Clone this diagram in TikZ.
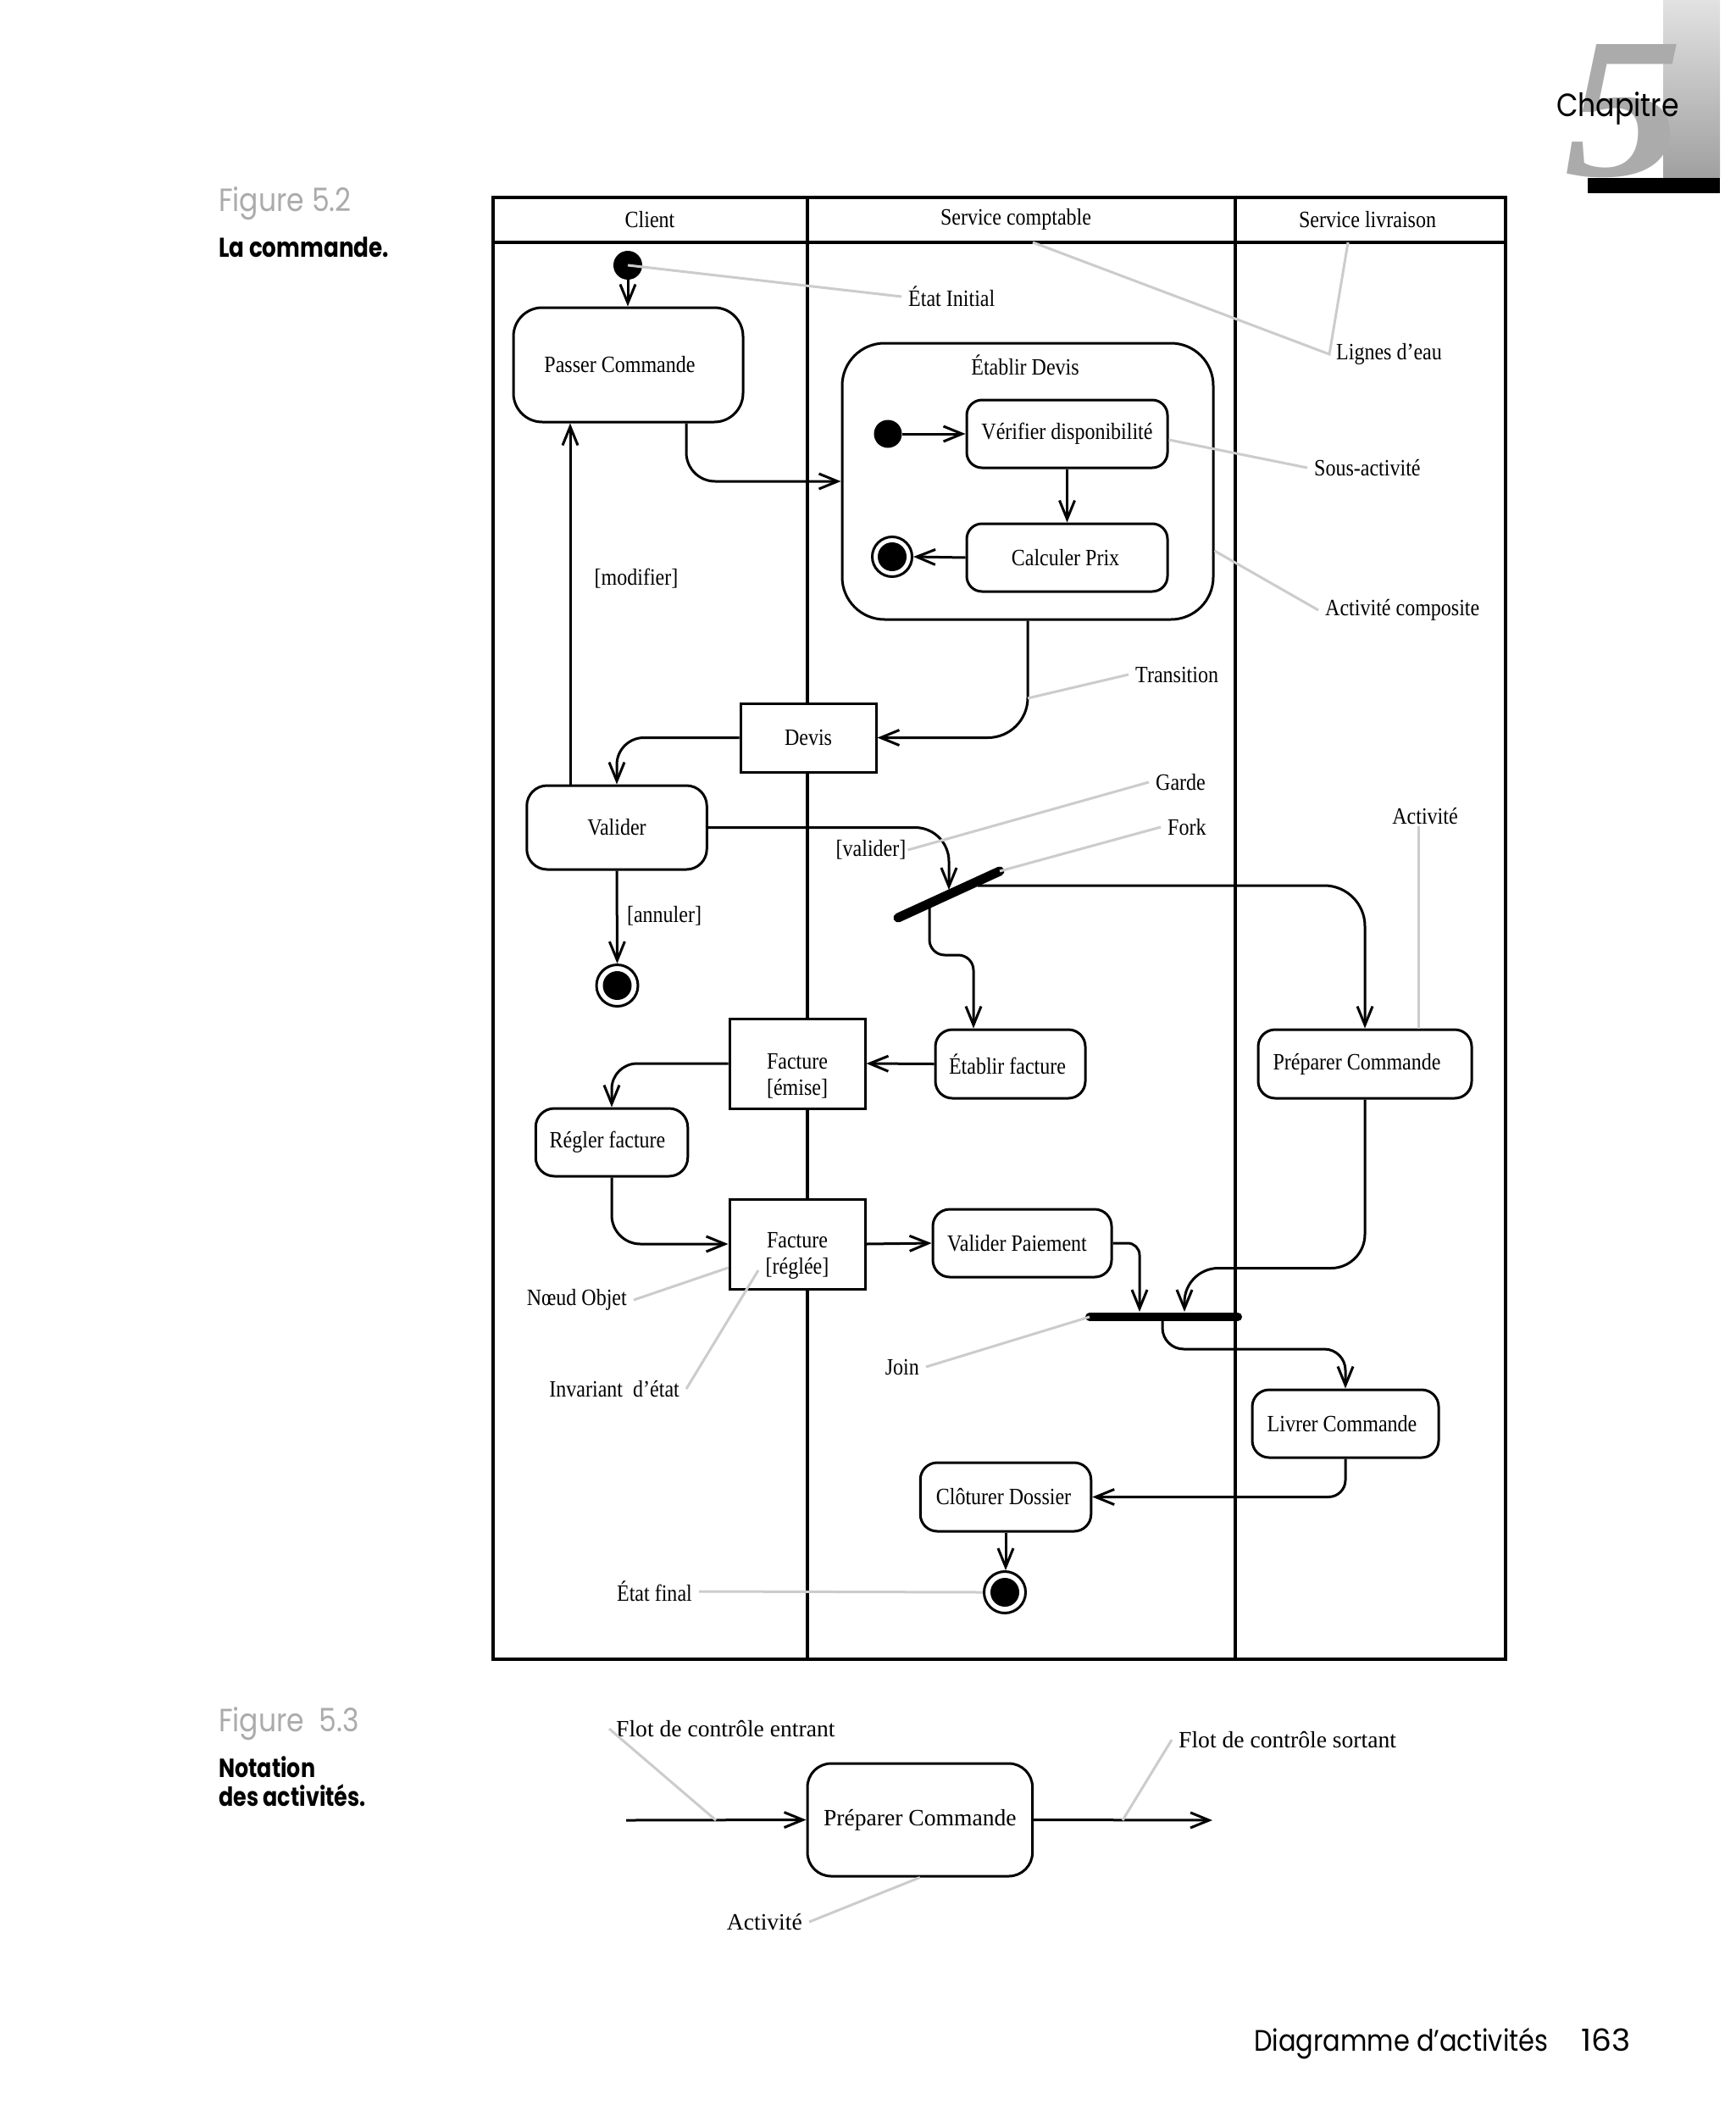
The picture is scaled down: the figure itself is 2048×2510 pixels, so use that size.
\documentclass[tikz,border=0pt]{standalone}
\usepackage{fontspec}
\usepackage{graphicx}
\setmainfont{Liberation Serif}
\newfontfamily\dserif{Liberation Serif}[FakeStretch=0.87]
\newfontfamily\futura{Poppins}[FakeStretch=0.87]
\newfontfamily\futurab{Poppins}[FakeStretch=0.82]
\usetikzlibrary{arrows.meta}
\definecolor{leadc}{HTML}{CCCCCC}
\definecolor{figgray}{HTML}{ABABAB}
\definecolor{fivegray}{HTML}{ABABAB}
\definecolor{bartop}{HTML}{E2E2E2}
\definecolor{barbot}{HTML}{A0A0A0}
\newcommand\dgmfont{\dserif\fontsize{27.6pt}{31pt}\selectfont}
\newcommand\figbfont{\fontsize{27.6pt}{31pt}\selectfont}
\tikzset{
  lane/.style={line width=3.5pt},
  flow/.style={draw, line width=3pt, -{Straight Barb[length=22pt,width=18pt]}},
  act/.style={draw, line width=3pt, rounded corners=#1, fill=white, inner sep=0pt, font=\dgmfont},
  act/.default=20pt,
  obj/.style={draw, line width=3pt, fill=white, inner sep=0pt, font=\dgmfont},
  initdot/.style={circle, fill=black, inner sep=0pt, minimum size=34pt},
  finstate/.style={circle, draw, line width=3pt, fill=white, inner sep=0pt, minimum size=49pt,
    path picture={\fill[black] (path picture bounding box.center) circle (17pt);}},
  lbl/.style={inner sep=2pt, font=\dgmfont},
  ann/.style={inner sep=8pt, font=\dgmfont},
  lead/.style={draw=leadc, line width=3pt},
  bar/.style={draw, line cap=round},
  pagetxt/.style={inner sep=0pt, anchor=base west},
}
\begin{document}
\begin{tikzpicture}[x=1pt,y=-1pt]
\useasboundingbox (0,0) rectangle (2048,2510);
\fill[white] (0,0) rectangle (2048,2510);

% ---- chapter mark ----
\shade[top color=bartop, bottom color=barbot] (1963,0) rectangle (2030,210);
\fill[black] (1874,210) rectangle (2030,228);
\node[anchor=south west, inner sep=0pt, text=fivegray] (five) at (1846,210)
  {\resizebox{140pt}{155pt}{\bfseries\itshape 5}};
\node[pagetxt, font={\futura\fontsize{38pt}{40pt}\selectfont}] (chap) at (1837,138) {Chapitre};

% ---- captions ----
\node[pagetxt, text=figgray, font={\futura\fontsize{38pt}{40pt}\selectfont}] (fig52) at (258,249) {Figure 5.2};
\node[pagetxt, font={\futurab\bfseries\fontsize{32pt}{34pt}\selectfont}] (cap52) at (258,303) {La commande.};
\node[pagetxt, text=figgray, font={\futura\fontsize{38pt}{40pt}\selectfont}] (fig53) at (258,2043) {Figure~~5.3};
\node[pagetxt, font={\futurab\bfseries\fontsize{31pt}{34pt}\selectfont}] (cap53a) at (258,2097) {Notation};
\node[pagetxt, font={\futurab\bfseries\fontsize{31pt}{34pt}\selectfont}] (cap53b) at (258,2131) {des activités.};
\node[pagetxt, font={\futura\fontsize{35pt}{38pt}\selectfont}] (foot) at (1480,2420) {Diagramme d’activités};
\node[pagetxt, font={\futura\fontsize{36pt}{38pt}\selectfont}] (pnum) at (1866,2420) {\scalebox{1.2}[1]{163}};

% ---- swimlanes ----
\draw[lane] (582,233) rectangle (1777,1958);
\draw[lane] (582,286) -- (1777,286);
\draw[lane] (953,233) -- (953,1958);
\draw[lane] (1458,233) -- (1458,1958);
\node[lbl] (hcli) at (767,259) {Client};
\node[lbl] (hcpt) at (1199,259) {Service comptable};
\node[lbl] (hliv) at (1614,259) {Service livraison};

% ---- nodes ----
\node[initdot] (init1) at (741,313) {};
\node[act=34pt, minimum width=271pt, minimum height=135pt] (pc) at (741.5,430.5) {Passer Commande\hspace*{20pt}};
\node[act=50pt, minimum width=438pt, minimum height=326pt] (comp) at (1213,568) {};
\node[lbl] (compl) at (1210,431) {Établir Devis};
\node[initdot, minimum size=33pt] (init2) at (1048,512) {};
\node[act=18pt, minimum width=237pt, minimum height=80pt] (verif) at (1259.5,512) {Vérifier disponibilité};
\node[act=18pt, minimum width=237pt, minimum height=80pt] (calc) at (1259.5,658) {Calculer Prix\hspace*{4pt}};
\node[finstate, minimum size=47pt] (fin2) at (1053,657) {};
\node[obj, minimum width=160pt, minimum height=81pt] (devis) at (954,870.5) {Devis};
\node[act=24pt, minimum width=212.5pt, minimum height=99pt] (valider) at (728,976.5) {Valider};
\node[finstate] (fin1) at (728.5,1163) {};
\coordinate (forkA) at (1060,1083);
\coordinate (forkB) at (1180,1028);
\coordinate (fkin) at (1120,1050);
\coordinate (fko1) at (1154,1045);
\coordinate (fko2) at (1097,1071);
\node[act, minimum width=177pt, minimum height=81pt] (etf) at (1192.5,1255.5) {Établir facture\hspace*{7pt}};
\node[obj, minimum width=160pt, minimum height=106pt] (factE) at (941,1255) {};
\node[lbl, align=center] (factEt) at (941,1270) {Facture\\{[émise]}};
\node[act=22pt, minimum width=179.5pt, minimum height=80pt] (regler) at (722,1348) {Régler facture\hspace*{10pt}};
\node[obj, minimum width=160pt, minimum height=106pt] (factR) at (941,1468) {};
\node[lbl, align=center] (factRt) at (941,1482) {Facture\\{[réglée]}};
\node[act, minimum width=211pt, minimum height=80pt] (valp) at (1206.5,1467) {Valider Paiement\hspace*{12pt}};
\coordinate (joinA) at (1286,1554);
\coordinate (joinB) at (1461,1554);
\coordinate (jin1) at (1345,1548);
\coordinate (jin2) at (1398,1548);
\coordinate (jout) at (1372,1554);
\node[act, minimum width=252pt, minimum height=81pt] (prep) at (1611,1255.5) {Préparer Commande\hspace*{19pt}};
\node[act, minimum width=220pt, minimum height=80pt] (livr) at (1588,1680) {Livrer Commande\hspace*{8pt}};
\node[act, minimum width=201.5pt, minimum height=81pt] (clot) at (1187,1766.5) {Clôturer Dossier\hspace*{5pt}};
\node[finstate] (fin3) at (1186,1879) {};

% ---- connectors ----
\draw[flow] (init1.south) -- (init1.south |- pc.north);
\draw[flow, rounded corners=34pt] ([xshift=68.5pt]pc.south) |- (comp.west);
\draw[flow] (init2.east) -- (verif.west);
\draw[flow] (verif.south) -- (calc.north);
\draw[flow] (calc.west) -- (fin2.east);
\draw[flow, rounded corners=47pt] (comp.south) |- (devis.east);
\draw[flow, rounded corners=32pt] (devis.west) -| (valider.north);
\coordinate (modx) at ([xshift=-55pt]valider.north);
\draw[flow] (modx) -- (modx |- pc.south);
\draw[flow] (valider.south) -- (fin1.north);
\draw[flow, rounded corners=40pt] (valider.east) -| (fkin);
\draw[flow, rounded corners=48pt] (fko1) -| (prep.north);
\coordinate (efx) at ([xshift=-43.5pt]etf.north);
\draw[flow, rounded corners=18pt] (fko2) -- ++(0,56) -| (efx);
\draw[flow] (etf.west) -- (factE.east);
\draw[flow, rounded corners=30pt] (factE.west) -| (regler.north);
\draw[flow, rounded corners=34pt] (regler.south) |- (factR.west);
\draw[flow] (factR.east) -- (valp.west);
\draw[flow, rounded corners=14pt] (valp.east) -| (jin1);
\draw[flow, rounded corners=40pt] (prep.south) -- ++(0,199) -| (jin2);
\draw[flow, rounded corners=25pt] (jout) -- ++(0,38) -| (livr.north);
\draw[flow, rounded corners=20pt] (livr.south) |- (clot.east);
\draw[flow] (clot.south) -- (clot.south |- fin3.north);

\draw[bar, line width=11pt] (forkA) -- (forkB);
\draw[bar, line width=10pt] (joinA) -- (joinB);

% guards
\node[lbl] (gmod) at (751,683) {[modifier]};
\node[lbl] (gann) at (784,1081) {[annuler]};
\node[lbl] (gval) at (1028,1003) {[valider]};

% ---- annotations ----
\node[ann, anchor=west] (aInit) at (1064,350) {État Initial};
\node[ann, anchor=west] (aLig) at (1569,418) {Lignes d’eau};
\node[ann, anchor=west] (aSous) at (1543,552) {Sous-activité};
\node[ann, anchor=west] (aComp) at (1556,720) {Activité composite};
\node[ann, anchor=west] (aTr) at (1332,796) {Transition};
\node[ann, anchor=west] (aGar) at (1356,923) {Garde};
\node[ann, anchor=west] (aFork) at (1370,976) {Fork};
\node[ann, inner sep=2pt] (aAct) at (1682,963) {Activité};
\node[ann, anchor=east] (aNo) at (748,1534) {Nœud Objet};
\node[ann, anchor=east] (aInv) at (810,1639) {Invariant~~d’état};
\node[ann, anchor=east] (aJoin) at (1093,1613) {Join};
\node[ann, anchor=east] (aFin) at (825,1878) {État final};

\coordinate (lig1) at (1219,286);
\coordinate (lig2) at (1591,286);
\coordinate (tpt) at (1213,824);
\coordinate (actx) at (1674,0);
\coordinate (invpt) at (895,1499);

\draw[lead] (init1.center) -- (aInit.west);
\draw[lead] (lig1) -- (aLig.west) -- (lig2);
\draw[lead] ([yshift=-7pt]verif.east) -- (aSous.west);
\draw[lead] ([yshift=-82pt]comp.east) -- (aComp.west);
\draw[lead] (tpt) -- (aTr.west);
\draw[lead] (gval.east) -- (aGar.west);
\draw[lead] (forkB) -- (aFork.west);
\draw[lead] (actx |- aAct.south) -- (actx |- prep.north);
\draw[lead] (aNo.east) -- ([yshift=-28pt]factR.west);
\draw[lead] (aInv.east) -- (invpt);
\draw[lead] (aJoin.east) -- (joinA);
\draw[lead] (aFin.east) -- (fin3.west);

% ---- figure 5.3 ----
\node[act=28pt, font=\figbfont, minimum width=265.6pt, minimum height=133pt] (pc2) at (1085.8,2147.5) {Préparer Commande};
\coordinate (in2) at (739,2148);
\coordinate (out2) at (1431,2148);
\draw[flow] (in2) -- (pc2.west);
\draw[flow] (pc2.east) -- (out2);
\node[ann, font=\figbfont, anchor=west] (aFe) at (719,2040) {Flot de contrôle entrant};
\node[ann, font=\figbfont, anchor=west] (aFs) at (1383,2053) {Flot de contrôle sortant};
\node[ann, font=\figbfont, anchor=east] (aAct2) at (955,2268) {Activité};
\coordinate (fept) at (845,2148);
\coordinate (fspt) at (1325,2148);
\draw[lead] (aFe.west) -- (fept);
\draw[lead] (aFs.west) -- (fspt);
\draw[lead] (aAct2.east) -- (pc2.south);
\end{tikzpicture}
\end{document}
